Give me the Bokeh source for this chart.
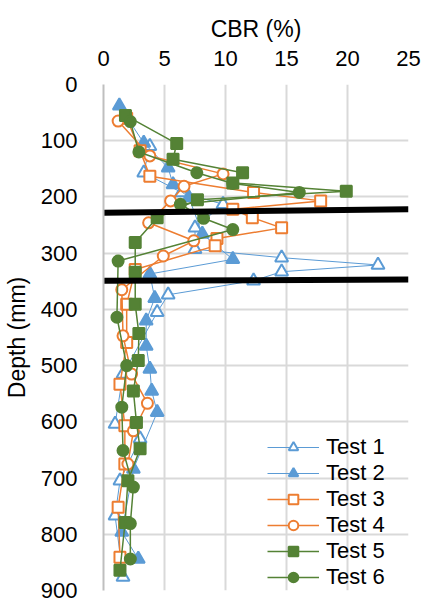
from bokeh.plotting import figure
from bokeh.models import Range1d, FixedTicker, Legend, LegendItem
from bokeh.embed import file_html
from bokeh.resources import INLINE

# ---- data ----
t1_depth = [110, 157, 192, 213, 255, 293, 308, 321, 333, 349, 374, 405, 515, 604, 630, 705, 767, 876]
t1_cbr   = [3.8, 3.3, 6.4, 9.8, 7.5, 7.5, 14.6, 22.5, 14.6, 12.3, 5.3, 4.4, 1.6, 0.95, 3.0, 1.35, 0.95, 1.6]

t2_depth = [38, 104, 148, 178, 201, 266, 311, 337, 380, 420, 465, 506, 545, 583, 684, 796, 844]
t2_cbr   = [1.3, 3.3, 5.3, 5.7, 7.0, 8.1, 10.6, 3.8, 4.2, 3.5, 3.5, 3.8, 3.95, 4.4, 2.45, 1.5, 2.85]

t3_depth = [60, 118, 163, 192, 207, 222, 237, 255, 274, 287, 329, 391, 459, 533, 607, 675, 752, 841]
t3_cbr   = [1.9, 3.0, 3.8, 12.3, 17.8, 10.6, 12.2, 14.6, 9.3, 9.15, 2.6, 1.9, 1.9, 1.35, 1.75, 1.75, 1.2, 1.35]

t4_depth = [65, 127, 159, 181, 207, 246, 278, 305, 365, 447, 515, 567, 616, 675]
t4_cbr   = [1.2, 3.8, 9.8, 6.6, 5.5, 3.7, 7.4, 4.9, 1.5, 1.6, 2.3, 3.6, 2.45, 2.0]

t5_depth = [55, 105, 133, 157, 175, 190, 205, 237, 281, 334, 391, 443, 491, 545, 601, 648, 705, 779, 864]
t5_cbr   = [1.8, 6.0, 5.7, 11.4, 10.6, 19.9, 7.7, 4.4, 2.6, 2.6, 2.6, 2.9, 2.85, 2.45, 2.7, 3.0, 2.0, 1.77, 1.35]

t6_depth = [66, 120, 157, 176, 192, 213, 238, 258, 314, 414, 500, 574, 651, 716, 781, 844]
t6_cbr   = [2.2, 2.9, 7.65, 10.6, 16.05, 6.3, 8.2, 10.6, 1.2, 1.1, 1.9, 1.5, 1.6, 2.45, 2.2, 2.2]

boundary_cbr = [0, 25]
upper_boundary_depth = [228, 222]
lower_boundary_depth = [349, 347]

x_ticks = [0, 5, 10, 15, 20, 25]
y_ticks = [0, 100, 200, 300, 400, 500, 600, 700, 800, 900]

BLUE = "#5B9BD5"
ORANGE = "#ED7D31"
GREEN = "#548235"
FONT = "Liberation Sans"

p = figure(
    width=423, height=603,
    frame_width=305, frame_height=506,
    x_range=Range1d(0, 25), y_range=Range1d(900, 0),
    x_axis_location="above",
    output_backend="svg", toolbar_location=None,
    min_border_left=103, min_border_top=84, min_border_right=15, min_border_bottom=13,
)
p.outline_line_color = None
p.background_fill_color = "white"
p.border_fill_color = "white"

p.xaxis.ticker = FixedTicker(ticks=x_ticks)
p.yaxis.ticker = FixedTicker(ticks=y_ticks)
for ax in (p.xaxis[0], p.yaxis[0]):
    ax.major_tick_line_color = None
    ax.minor_tick_line_color = None
    ax.major_label_text_font = FONT
    ax.major_label_text_font_size = "22px"
    ax.major_label_text_color = "#000000"
    ax.axis_label_text_font = FONT
    ax.axis_label_text_font_size = "23px"
    ax.axis_label_text_font_style = "normal"
    ax.axis_label_text_color = "#000000"
p.xaxis.axis_label = "CBR (%)"
p.yaxis.axis_label = "Depth (mm)"
p.xaxis.axis_line_color = None
p.yaxis.axis_line_color = "#bfbfbf"
p.yaxis.axis_line_width = 2
p.xaxis.major_label_standoff = 13
p.yaxis.major_label_standoff = 20
p.xaxis.axis_label_standoff = 6
p.yaxis.axis_label_standoff = 8

p.xgrid.ticker = FixedTicker(ticks=x_ticks)
p.ygrid.ticker = FixedTicker(ticks=y_ticks)
p.grid.grid_line_color = "#d9d9d9"
p.grid.grid_line_width = 2

items = []

def series(label, xs, ys, color, marker, filled, lw):
    lr = p.line(xs, ys, line_color=color, line_width=lw)
    sr = p.scatter(xs, ys, marker=marker, size=11 if marker != "triangle" else 13,
                   line_color=color, line_width=2,
                   fill_color=color if filled else "white")
    items.append(LegendItem(label=label, renderers=[lr, sr]))

series("Test 1", t1_cbr, t1_depth, BLUE, "triangle", False, 1)
series("Test 2", t2_cbr, t2_depth, BLUE, "triangle", True, 1)
series("Test 3", t3_cbr, t3_depth, ORANGE, "square", False, 1.5)
series("Test 4", t4_cbr, t4_depth, ORANGE, "circle", False, 1.5)
series("Test 5", t5_cbr, t5_depth, GREEN, "square", True, 1.5)
series("Test 6", t6_cbr, t6_depth, GREEN, "circle", True, 1.5)

p.line(boundary_cbr, upper_boundary_depth, line_color="black", line_width=6)
p.line(boundary_cbr, lower_boundary_depth, line_color="black", line_width=6)

legend = Legend(items=items, location=(164, 0), orientation="vertical")
legend.background_fill_alpha = 0
legend.border_line_color = None
legend.padding = 0
legend.margin = 0
legend.spacing = 0
legend.label_height = 24
legend.glyph_height = 24
legend.glyph_width = 52
legend.label_standoff = 7
legend.label_text_font = FONT
legend.label_text_font_size = "22px"
legend.label_text_color = "#000000"
p.add_layout(legend, "center")

open("out.html", "w").write(file_html(p, INLINE))
